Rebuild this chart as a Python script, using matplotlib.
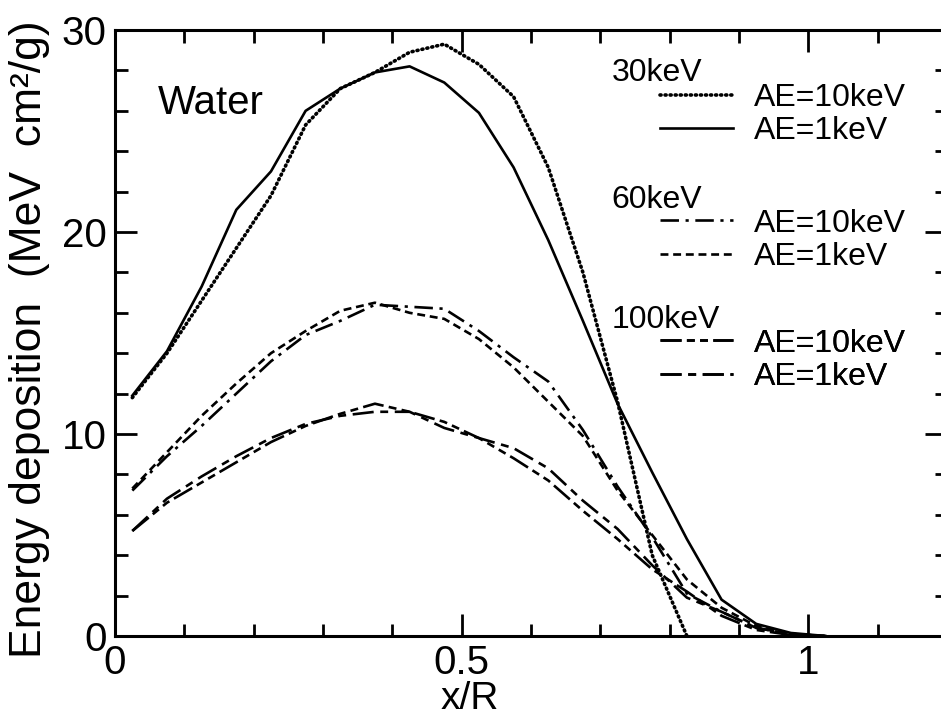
import matplotlib
matplotlib.use("Agg")
import matplotlib.pyplot as plt
from matplotlib.ticker import MultipleLocator, FixedLocator

plt.rcParams['font.family'] = ['Liberation Sans', 'DejaVu Sans']

# bin centres in x/R
x = [0.025, 0.075, 0.125, 0.175, 0.225, 0.275, 0.325, 0.375, 0.425, 0.475,
     0.525, 0.575, 0.625, 0.675, 0.725, 0.775, 0.825, 0.875, 0.925, 0.975, 1.025]
x_30_ae10 = x[:17]

e30_ae10 = [11.8, 14.0, 16.6, 19.2, 21.8, 25.3, 27.1, 27.9, 28.9, 29.3,
            28.3, 26.7, 23.2, 18.0, 11.6, 4.0, 0.0]
e30_ae1 = [11.9, 14.1, 17.3, 21.1, 23.0, 26.0, 27.1, 27.9, 28.2, 27.4,
           25.9, 23.2, 19.6, 15.6, 11.5, 8.1, 4.8, 1.8, 0.6, 0.15, 0.0]
e60_ae10 = [7.2, 8.9, 10.4, 12.0, 13.6, 14.9, 15.6, 16.4, 16.3, 16.2,
            15.1, 13.8, 12.6, 10.2, 7.4, 4.9, 2.1, 1.2, 0.4, 0.1, 0.0]
e60_ae1 = [7.3, 9.1, 10.9, 12.5, 14.0, 15.1, 16.1, 16.5, 16.0, 15.7,
           14.7, 13.3, 11.6, 9.9, 7.2, 5.0, 2.8, 1.4, 0.5, 0.1, 0.0]
e100_ae10 = [5.2, 6.6, 7.6, 8.6, 9.6, 10.4, 11.0, 11.5, 11.1, 10.6,
             9.8, 8.8, 7.7, 6.2, 4.8, 3.3, 2.2, 1.0, 0.3, 0.05, 0.0]
e100_ae1 = [5.2, 6.8, 7.9, 8.9, 9.8, 10.5, 10.9, 11.1, 11.1, 10.3,
            9.8, 9.3, 8.3, 6.7, 5.3, 3.5, 1.9, 1.2, 0.4, 0.1, 0.0]

lw = 1.9
fig = plt.figure(figsize=(9.41, 7.18), dpi=100)
ax = fig.add_axes([0.1222, 0.1142, 0.884, 0.844])

l30a, = ax.plot(x_30_ae10, e30_ae10, color='k', lw=2.6, ls=(0, (0.3, 1.1)),
                dash_capstyle='round', label='AE=10keV')
l30b, = ax.plot(x, e30_ae1, color='k', lw=lw, ls='-', label='AE=1keV')
l60a, = ax.plot(x, e60_ae10, color='k', lw=lw, ls=(0, (7, 2.5, 1.2, 2.5)), label='AE=10keV')
l60b, = ax.plot(x, e60_ae1, color='k', lw=lw, ls=(0, (3, 1.8)), label='AE=1keV')
l100a, = ax.plot(x, e100_ae10, color='k', lw=lw, ls=(0, (8, 2, 3, 2, 3, 2)), label='AE=10keV')
l100b, = ax.plot(x, e100_ae1, color='k', lw=lw, ls=(0, (8, 2.5, 3, 2.5)), label='AE=1keV')

ax.set_xlim(0, 1.2)
ax.set_ylim(0, 30)
ax.xaxis.set_major_locator(FixedLocator([0, 0.5, 1]))
ax.set_xticklabels(['0', '0.5', '1'])
ax.xaxis.set_minor_locator(MultipleLocator(0.1))
ax.yaxis.set_major_locator(MultipleLocator(10))
ax.yaxis.set_minor_locator(MultipleLocator(2))
ax.tick_params(which='both', direction='in', top=True, right=True, width=2)
ax.tick_params(which='major', length=16, labelsize=29, pad=6)
ax.tick_params(which='minor', length=9)
for sp in ax.spines.values():
    sp.set_linewidth(2.2)

ax.set_xlabel('x/R', fontsize=28)
ax.xaxis.set_label_coords(0.427, -0.075)
ax.set_ylabel('Energy deposition  (MeV  cm²/g)', fontsize=32)
ax.yaxis.set_label_coords(-0.078, 0.49)

ax.text(0.062, 26.4, 'Water', fontsize=29, va='center', ha='left')

groups = [('30keV', [l30a, l30b], 0.929, 0.913),
          ('60keV', [l60a, l60b], 0.7195, 0.7054),
          ('100keV', [l100a, l100b], 0.5215, 0.5074)]
for title, handles, ty, ly in groups:
    ax.text(0.597, ty, title, transform=ax.transAxes, fontsize=23, va='center', ha='left')
    leg = ax.legend(handles=handles, loc='upper left', bbox_to_anchor=(0.655, ly),
                    frameon=False, fontsize=23, borderpad=0, borderaxespad=0,
                    handlelength=2.3, handletextpad=0.65, labelspacing=0.1)
    ax.add_artist(leg)

fig.savefig('out.png', dpi=100)
